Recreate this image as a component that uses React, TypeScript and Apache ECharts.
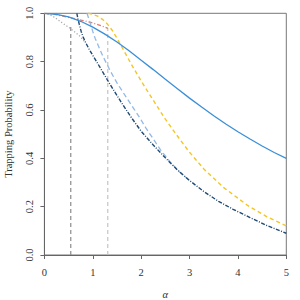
import React, { useEffect, useRef } from "react";
import * as echarts from "echarts";

const xTicks = [0, 1, 2, 3, 4, 5];
const yTicks = [0, 0.2, 0.4, 0.6, 0.8, 1.0];

const solidBlue: [number, number][] = [
  [0, 1], [0.25, 0.996], [0.5, 0.985], [0.75, 0.967], [1, 0.943], [1.25, 0.914], [1.5, 0.881],
  [1.75, 0.845], [2, 0.806], [2.25, 0.767], [2.5, 0.727], [2.75, 0.688], [3, 0.649],
  [3.25, 0.612], [3.5, 0.576], [3.75, 0.542], [4, 0.51], [4.25, 0.48], [4.5, 0.451],
  [4.75, 0.424], [5, 0.40],
];
const yellow: [number, number][] = [
  [0.9, 1], [1.0, 0.996], [1.1, 0.988], [1.2, 0.975], [1.3, 0.956], [1.4, 0.93], [1.5, 0.897],
  [1.6, 0.861], [1.8, 0.788], [2.0, 0.72], [2.2, 0.656], [2.5, 0.562], [2.8, 0.478],
  [3.0, 0.425], [3.3, 0.355], [3.7, 0.28], [4.2, 0.205], [4.6, 0.158], [5.0, 0.12],
];
const red: [number, number][] = [
  [0, 1], [0.15, 0.998], [0.3, 0.992], [0.45, 0.985], [0.6, 0.979], [0.8, 0.97],
  [1.0, 0.96], [1.15, 0.95], [1.31, 0.938],
];
const grayDotted: [number, number][] = [
  [0, 1], [0.12, 0.994], [0.22, 0.982], [0.32, 0.967], [0.43, 0.952], [0.53, 0.938],
  [0.64, 0.921], [0.74, 0.904], [0.85, 0.878],
];
const navy: [number, number][] = [
  [0.67, 1.0], [0.69, 0.98], [0.72, 0.955], [0.76, 0.925], [0.8, 0.902], [0.85, 0.88],
  [0.92, 0.853], [1.0, 0.826], [1.15, 0.776], [1.3, 0.725], [1.45, 0.676], [1.6, 0.628],
  [1.8, 0.568], [2.0, 0.512], [2.25, 0.455], [2.5, 0.402], [2.75, 0.352], [3.0, 0.308],
  [3.3, 0.262], [3.6, 0.222], [3.9, 0.189], [4.25, 0.155], [4.6, 0.122], [5.0, 0.09],
];
const lightBlue: [number, number][] = [
  [0.88, 1.0], [0.93, 0.97], [1.0, 0.925], [1.05, 0.896], [1.2, 0.826], [1.36, 0.762],
  [1.5, 0.712], [1.7, 0.65], [1.85, 0.605], [1.98, 0.565], [2.1, 0.525], [2.2, 0.495],
  [2.4, 0.435], [2.6, 0.385], [2.8, 0.342], [3.0, 0.308],
];
const vLineDark: [number, number][] = [[0.545, 0], [0.545, 0.945]];
const vLineLight: [number, number][] = [[1.31, 0], [1.31, 0.94]];

const FONT = "Liberation Serif";

export default function App() {
  const ref = useRef<HTMLDivElement>(null);
  useEffect(() => {
    if (!ref.current) return;
    const chart = echarts.init(ref.current, undefined, { renderer: "svg" });
    const line = (data: [number, number][], color: string, type: any, width = 1.3, z = 2) => ({
      type: "line",
      data,
      symbol: "none",
      smooth: false,
      z,
      lineStyle: { color, width, type },
      silent: true,
    });
    chart.setOption({
      animation: false,
      grid: {
        left: 44.4,
        right: 13.7,
        top: 13.3,
        bottom: 45,
        show: true,
        borderColor: "#777",
        borderWidth: 1,
        backgroundColor: "transparent",
        containLabel: false,
        outerBoundsMode: "none",
      },
      xAxis: {
        type: "value",
        min: xTicks[0],
        max: xTicks[xTicks.length - 1],
        interval: 1,
        splitLine: { show: false },
        axisLine: { show: true, lineStyle: { color: "#666", width: 1 } },
        axisTick: { show: true, length: 4, lineStyle: { color: "#666" } },
        axisLabel: { fontFamily: FONT, fontSize: 10.5, color: "#333", margin: 12, showMaxLabel: true },
        name: "α",
        nameLocation: "middle",
        nameGap: 34,
        nameTextStyle: { fontFamily: FONT, fontSize: 10.5, color: "#333", fontStyle: "italic" },
      },
      yAxis: {
        type: "value",
        min: yTicks[0],
        max: yTicks[yTicks.length - 1],
        interval: 0.2,
        splitLine: { show: false },
        axisLine: { show: true, lineStyle: { color: "#666", width: 1 } },
        axisTick: { show: true, length: 4, lineStyle: { color: "#666" } },
        axisLabel: {
          fontFamily: FONT,
          fontSize: 10.5,
          color: "#333",
          rotate: 90,
          margin: 9,
          formatter: (v: number) => v.toFixed(1),
        },
        name: "Trapping Probability",
        nameLocation: "middle",
        nameGap: 30,
        nameRotate: 90,
        nameTextStyle: { fontFamily: FONT, fontSize: 10.5, color: "#333" },
      },
      series: [
        line(vLineDark, "#8a8a8a", [4, 3], 1.2, 1),
        line(vLineLight, "#c4c4c4", [4, 3], 1.2, 1),
        line(grayDotted, "#a8a8a8", [1.2, 2], 1.3),
        line(red, "#e07a6e", [4, 2, 1, 2], 1.3),
        line(yellow, "#f3c623", [4, 3], 1.4),
        line(lightBlue, "#93b9e6", [5, 3], 1.3),
        line(navy, "#1f4a75", [4, 1.5, 1, 1.5], 1.4),
        line(solidBlue, "#3a8fd8", "solid", 1.3),
      ],
    });
    return () => chart.dispose();
  }, []);
  return (
    <div
      ref={ref}
      style={{ position: "absolute", left: 0, top: 0, width: 300, height: 300 }}
    />
  );
}
